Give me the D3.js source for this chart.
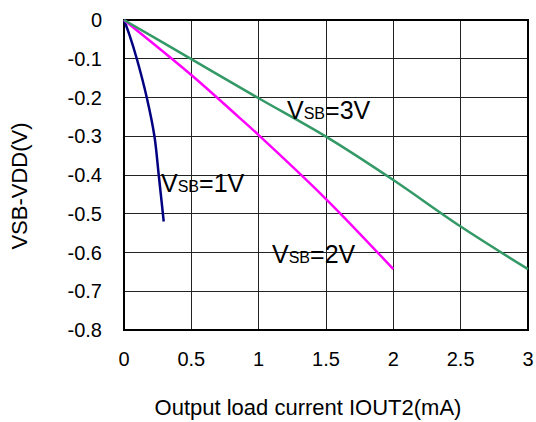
<!DOCTYPE html>
<html>
<head>
<meta charset="utf-8">
<script src="https://cdn.jsdelivr.net/npm/d3@7/dist/d3.min.js"></script>
<style>
  body { margin: 0; background: #fff; }
  svg { display: block; font-family: Arial, "Liberation Sans", sans-serif; }
</style>
</head>
<body>
<svg width="536" height="422"></svg>
<script>
// data
var xTicks = [0, 0.5, 1, 1.5, 2, 2.5, 3];
var yTicks = [0, -0.1, -0.2, -0.3, -0.4, -0.5, -0.6, -0.7, -0.8];

var vsb1x = [0, 0.041, 0.095, 0.169, 0.226, 0.258, 0.295];
var vsb1y = [0, -0.039, -0.1, -0.2, -0.3, -0.4, -0.52];

var vsb2x = [0, 0.5, 0.85, 1, 1.5, 2];
var vsb2y = [0, -0.142, -0.25, -0.297, -0.462, -0.643];

var vsb3x = [0, 0.5, 1, 1.5, 2, 2.5, 3];
var vsb3y = [0, -0.101, -0.202, -0.301, -0.413, -0.533, -0.643];

var seriesNames = ["1V", "2V", "3V"];
var colors = ["#000080", "#ff00ff", "#339966"];

var svg = d3.select("svg");
var pLeft = 124, pRight = 528, pTop = 20, pBottom = 330;

var x = d3.scaleLinear().domain([0, 3]).range([pLeft, pRight]);
var y = d3.scaleLinear().domain([-0.8, 0]).range([pBottom, pTop]);

// grid
var grid = svg.append("g").attr("shape-rendering", "crispEdges");
grid.selectAll(".vg").data(xTicks).enter().append("line")
    .attr("x1", function(d) { return x(d); })
    .attr("x2", function(d) { return x(d); })
    .attr("y1", pTop).attr("y2", pBottom)
    .attr("stroke", "#222").attr("stroke-width", 1);
grid.selectAll(".hg").data(yTicks).enter().append("line")
    .attr("y1", function(d) { return y(d); })
    .attr("y2", function(d) { return y(d); })
    .attr("x1", pLeft).attr("x2", pRight)
    .attr("stroke", "#222").attr("stroke-width", 1);
grid.append("rect")
    .attr("x", pLeft).attr("y", pTop)
    .attr("width", pRight - pLeft).attr("height", pBottom - pTop)
    .attr("fill", "none").attr("stroke", "#000").attr("stroke-width", 1.5);

// tick labels
svg.append("g").selectAll("text").data(xTicks).enter().append("text")
    .attr("x", function(d) { return x(d); })
    .attr("y", 366)
    .attr("text-anchor", "middle")
    .style("font-size", "20px")
    .text(function(d) { return d; });

svg.append("g").selectAll("text").data(yTicks).enter().append("text")
    .attr("x", 102)
    .attr("y", function(d) { return y(d) + 7; })
    .attr("text-anchor", "end")
    .style("font-size", "20px")
    .text(function(d) { return d === 0 ? "0" : d.toFixed(1); });

// axis titles
svg.append("text")
    .attr("x", 308)
    .attr("y", 415)
    .attr("text-anchor", "middle")
    .style("font-size", "22px")
    .text("Output load current IOUT2(mA)");

svg.append("text")
    .attr("transform", "translate(27,186) rotate(-90)")
    .attr("text-anchor", "middle")
    .style("font-size", "22px")
    .text("VSB-VDD(V)");

// curves
var line = d3.line()
    .x(function(d) { return x(d[0]); })
    .y(function(d) { return y(d[1]); })
    .curve(d3.curveCatmullRom);

var allX = [vsb1x, vsb2x, vsb3x], allY = [vsb1y, vsb2y, vsb3y];
allX.forEach(function(xs, i) {
    var pts = xs.map(function(v, j) { return [v, allY[i][j]]; });
    svg.append("path")
        .attr("d", line(pts))
        .attr("fill", "none")
        .attr("stroke", colors[i])
        .attr("stroke-width", 2.5);
});

// series labels
var labelPos = [[161, 192], [272, 263], [287, 119]];
labelPos.forEach(function(p, i) {
    var t = svg.append("text")
        .attr("x", p[0]).attr("y", p[1])
        .style("font-size", "25px");
    t.append("tspan").text("V");
    t.append("tspan").style("font-size", "16px").text("SB");
    t.append("tspan").text("=" + seriesNames[i]);
});
</script>
</body>
</html>
